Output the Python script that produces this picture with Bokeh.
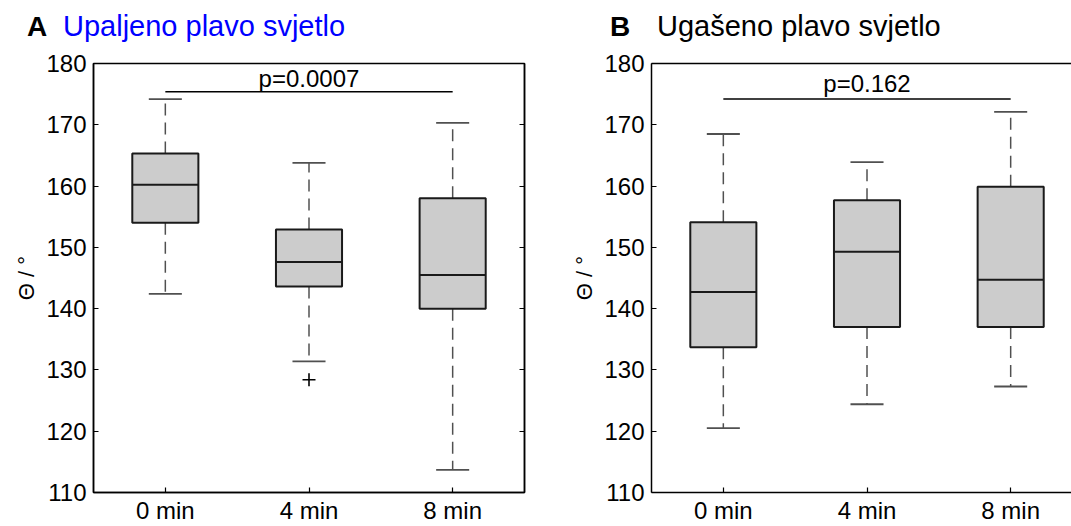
from bokeh.plotting import figure
from bokeh.models import Range1d, FixedTicker, LinearAxis, ColumnDataSource, Div
from bokeh.layouts import row, column
from bokeh.embed import file_html
from bokeh.resources import INLINE
from bokeh.core.properties import value

# ---- data ----
groups = ["0 min", "4 min", "8 min"]
y_ticks = [110, 120, 130, 140, 150, 160, 170, 180]

a_low = [142.4, 131.4, 113.7]
a_q1 = [154.0, 143.6, 140.0]
a_med = [160.2, 147.6, 145.5]
a_q3 = [165.3, 152.9, 158.0]
a_high = [174.2, 163.8, 170.3]
a_out_group = ["4 min"]
a_out_val = [128.4]
a_p_text = "p=0.0007"
a_p_y = 175.4
a_letter = "A"
a_title = "Upaljeno plavo svjetlo"

b_low = [120.5, 124.4, 127.3]
b_q1 = [133.7, 137.0, 137.0]
b_med = [142.7, 149.3, 144.7]
b_q3 = [154.1, 157.7, 159.9]
b_high = [168.5, 163.9, 172.1]
b_out_group = []
b_out_val = []
b_p_text = "p=0.162"
b_p_y = 174.2
b_letter = "B"
b_title = "Ugašeno plavo svjetlo"

FONT = "Liberation Sans"
BOX_W = 0.46
CAP_W = 0.23
HEADER_H = 45
TOTAL_H = 526


def make_header(width, letter, title, title_color, letter_x, title_x):
    html = (
        f'<div style="position:relative;width:{width}px;height:{HEADER_H}px;'
        f'font-family:\'{FONT}\';line-height:1;">'
        f'<span style="position:absolute;left:{letter_x}px;top:13px;font-size:28px;'
        f'font-weight:bold;color:black;white-space:nowrap;">{letter}</span>'
        f'<span style="position:absolute;left:{title_x}px;top:12px;font-size:29px;'
        f'color:{title_color};white-space:nowrap;">{title}</span></div>'
    )
    return Div(text=html, width=width, height=HEADER_H, margin=0)


def make_panel(low, q1, med, q3, high, out_g, out_v, ptext, py, p_off,
               width, left_border, right_border, x_end, full_box):
    pos = [i + 1 for i in range(len(groups))]
    p = figure(width=width, height=TOTAL_H - HEADER_H, output_backend="svg",
               toolbar_location=None,
               x_range=Range1d(0.5, x_end), y_range=Range1d(110, 180),
               min_border_left=left_border, min_border_right=right_border,
               min_border_top=63 - HEADER_H, min_border_bottom=5)
    p.grid.visible = False
    p.background_fill_color = "white"
    p.border_fill_color = "white"

    xa = p.below[0]
    ya = p.left[0]
    xa.ticker = FixedTicker(ticks=pos)
    xa.major_label_overrides = {pp: g for pp, g in zip(pos, groups)}
    xa.axis_label = None
    ya.ticker = FixedTicker(ticks=y_ticks)
    ya.axis_label = "Θ / °"
    ya.axis_label_text_font = FONT
    ya.axis_label_text_font_size = "22px"
    ya.axis_label_text_font_style = "normal"
    ya.axis_label_text_color = "black"
    ya.axis_label_standoff = 4
    for ax in (xa, ya):
        ax.major_tick_in = 5
        ax.major_tick_out = 0
        ax.minor_tick_line_color = None
        ax.axis_line_color = "black"
        ax.axis_line_width = 1.5
        ax.major_tick_line_color = "black"
        ax.major_tick_line_width = 1.2
        ax.major_label_text_font = FONT
        ax.major_label_text_font_size = "24px"
        ax.major_label_text_color = "black"
    xa.major_label_standoff = 4
    ya.major_label_standoff = 7

    if full_box:
        p.outline_line_color = "black"
        p.outline_line_width = 1.5
        ra = LinearAxis(ticker=FixedTicker(ticks=y_ticks), major_tick_in=5, major_tick_out=0,
                        minor_tick_line_color=None, axis_line_color="black",
                        axis_line_width=1.5, major_tick_line_color="black",
                        major_label_text_font_size="0px", major_label_text_color=None)
        p.add_layout(ra, "right")
    else:
        p.outline_line_color = None
        ta = LinearAxis(ticker=FixedTicker(ticks=[]), major_tick_line_color=None,
                        minor_tick_line_color=None, axis_line_color="black",
                        axis_line_width=1.5, major_label_text_font_size="0px",
                        major_label_text_color=None, major_label_standoff=0)
        p.add_layout(ta, "above")

    src = ColumnDataSource(dict(
        x=pos, low=low, q1=q1, med=med, q3=q3, high=high,
        xl=[v - BOX_W / 2 for v in pos], xr=[v + BOX_W / 2 for v in pos],
        cl=[v - CAP_W / 2 for v in pos], cr=[v + CAP_W / 2 for v in pos],
    ))
    p.segment(x0="x", y0="q3", x1="x", y1="high", source=src, line_color="#505050",
              line_width=1.5, line_dash="12 7")
    p.segment(x0="x", y0="q1", x1="x", y1="low", source=src, line_color="#505050",
              line_width=1.5, line_dash="12 7")
    p.segment(x0="cl", y0="high", x1="cr", y1="high", source=src, line_color="#505050",
              line_width=1.8)
    p.segment(x0="cl", y0="low", x1="cr", y1="low", source=src, line_color="#505050",
              line_width=1.8)
    p.vbar(x="x", bottom="q1", top="q3", width=BOX_W, source=src,
           fill_color="#cccccc", line_color="#1a1a1a", line_width=2)
    p.segment(x0="xl", y0="med", x1="xr", y1="med", source=src, line_color="#1a1a1a",
              line_width=2)
    if out_g:
        ox = [pos[groups.index(g)] for g in out_g]
        p.scatter(x=ox, y=out_v, marker="cross", size=13, line_color="black",
                  line_width=1.6)
    p.segment(x0=[pos[0]], y0=[py], x1=[pos[-1]], y1=[py], line_color="black",
              line_width=1.5)
    p.text(x=[pos[len(pos) // 2]], y=[py], text=[ptext], text_align="center",
           text_baseline="bottom", y_offset=p_off, text_font=value(FONT),
           text_font_size="24px", text_color="black")
    return p


WA = 556
WB = 1071 - WA
ha = make_header(WA, a_letter, a_title, "#0000ff", 27, 63)
pa = make_panel(a_low, a_q1, a_med, a_q3, a_high, a_out_group, a_out_val,
                a_p_text, a_p_y, 0, width=WA, left_border=93, right_border=WA - 524,
                x_end=3.5, full_box=True)
hb = make_header(WB, b_letter, b_title, "black", 610 - WA, 657 - WA)
pb = make_panel(b_low, b_q1, b_med, b_q3, b_high, b_out_group, b_out_val,
                b_p_text, b_p_y, -2, width=WB, left_border=651 - WA, right_border=0,
                x_end=0.5 + (WB - (651 - WA)) / 143.67, full_box=False)

layout = row(column(ha, pa), column(hb, pb))
open("out.html", "w").write(file_html(layout, INLINE))
